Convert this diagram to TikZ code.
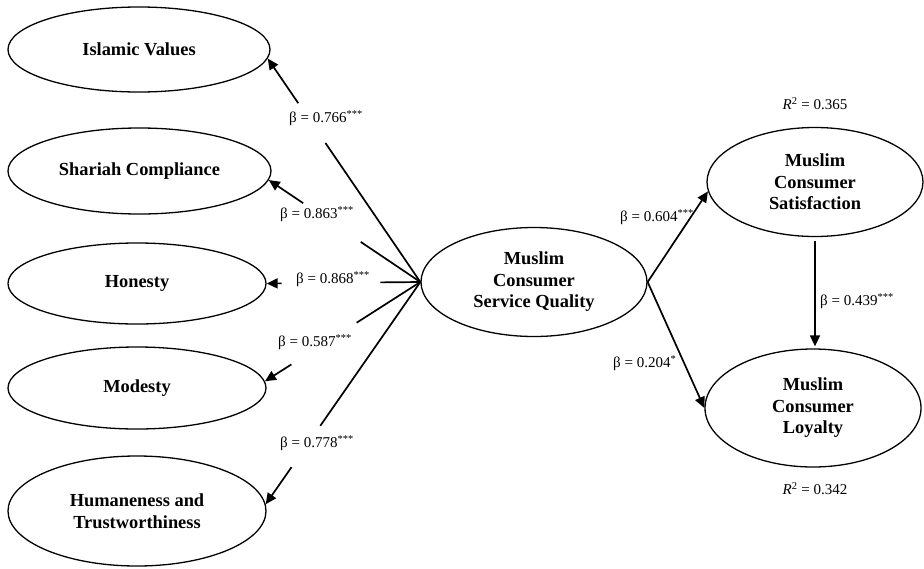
\documentclass[tikz,border=0pt]{standalone}
\usepackage{fontspec}
\setmainfont{Liberation Serif}
\usetikzlibrary{arrows.meta,calc,shapes.geometric}
\begin{document}
\begin{tikzpicture}[x=1pt,y=-1pt,
  lat/.style={draw,ellipse,line width=1.3pt,inner sep=0pt,align=center,font=\fontsize{18.4}{21.5}\selectfont\bfseries},
  coef/.style={font=\fontsize{15}{18}\selectfont,inner sep=0pt,anchor=west},
  rsq/.style={font=\fontsize{15}{18}\selectfont,inner sep=0pt},
  seg/.style={line width=1.7pt},
  arr/.style={line width=1.7pt,-{Triangle[length=11pt,width=10pt]}}]
\useasboundingbox (0,0) rectangle (924,568);
% latent variables
\node[lat,minimum width=262pt,minimum height=85pt] (iv) at (139,49.5) {Islamic Values};
\node[lat,minimum width=263pt,minimum height=86pt] (sc) at (139.5,171) {Shariah Compliance};
\node[lat,minimum width=258pt,minimum height=81pt] (ho) at (137,283.5) {Honesty};
\node[lat,minimum width=258pt,minimum height=82pt] (mo) at (137,388) {Modesty};
\node[lat,minimum width=258pt,minimum height=110pt] (hu) at (137,511) {Humaneness and\\Trustworthiness};
\node[lat,minimum width=226pt,minimum height=109pt] (sq) at (534,282) {Muslim\\Consumer\\Service Quality};
\node[lat,minimum width=216pt,minimum height=109pt] (sat) at (815,182) {Muslim\\Consumer\\Satisfaction};
\node[lat,minimum width=216pt,minimum height=118pt] (loy) at (813,408) {Muslim\\Consumer\\Loyalty};
% broken connector points
\coordinate (ivA) at ($(sq.west)!0.622!(iv.-4)$);
\coordinate (ivB) at ($(sq.west)!0.80!(iv.-4)$);
\coordinate (scA) at ($(sq.west)!0.393!(sc.-4)$);
\coordinate (scB) at ($(sq.west)!0.773!(sc.-4)$);
\coordinate (hoA) at ($(sq.west)!0.26!(ho.east)$);
\coordinate (hoB) at ($(sq.west)!0.903!(ho.east)$);
\coordinate (moA) at ($(sq.west)!0.41!(mo.3)$);
\coordinate (moB) at ($(sq.west)!0.83!(mo.3)$);
\coordinate (huA) at ($(sq.west)!0.647!(hu.3)$);
\coordinate (huB) at ($(sq.west)!0.833!(hu.3)$);
\draw[seg] (sq.west) -- (ivA); \draw[arr] (ivB) -- (iv.-4);
\draw[seg] (sq.west) -- (scA); \draw[arr] (scB) -- (sc.-4);
\draw[seg] (sq.west) -- (hoA); \draw[arr] (hoB) -- (ho.east);
\draw[seg] (sq.west) -- (moA); \draw[arr] (moB) -- (mo.3);
\draw[seg] (sq.west) -- (huA); \draw[arr] (huB) -- (hu.3);
% right paths
\draw[arr] (sq.east) -- (sat.185);
\draw[arr] (sq.east) -- (loy.west);
\draw[arr,shorten <=4pt,shorten >=2pt] (sat.south) -- (sat.south |- loy.north);
% coefficients
\node[coef] (c1) at (289,118) {β = 0.766\textsuperscript{***}};
\node[coef] (c2) at (280,214) {β = 0.863\textsuperscript{***}};
\node[coef] (c3) at (296,279) {β = 0.868\textsuperscript{***}};
\node[coef] (c4) at (278,342) {β = 0.587\textsuperscript{***}};
\node[coef] (c5) at (280,443) {β = 0.778\textsuperscript{***}};
\node[coef] (c6) at (620,217) {β = 0.604\textsuperscript{***}};
\node[coef] (c7) at (613,363) {β = 0.204\textsuperscript{*}};
\node[coef] (c8) at (820,301) {β = 0.439\textsuperscript{***}};
\node[rsq] (r1) at (815,104) {\textit{R}\textsuperscript{2} = 0.365};
\node[rsq] (r2) at (815,489) {\textit{R}\textsuperscript{2} = 0.342};
\end{tikzpicture}
\end{document}
